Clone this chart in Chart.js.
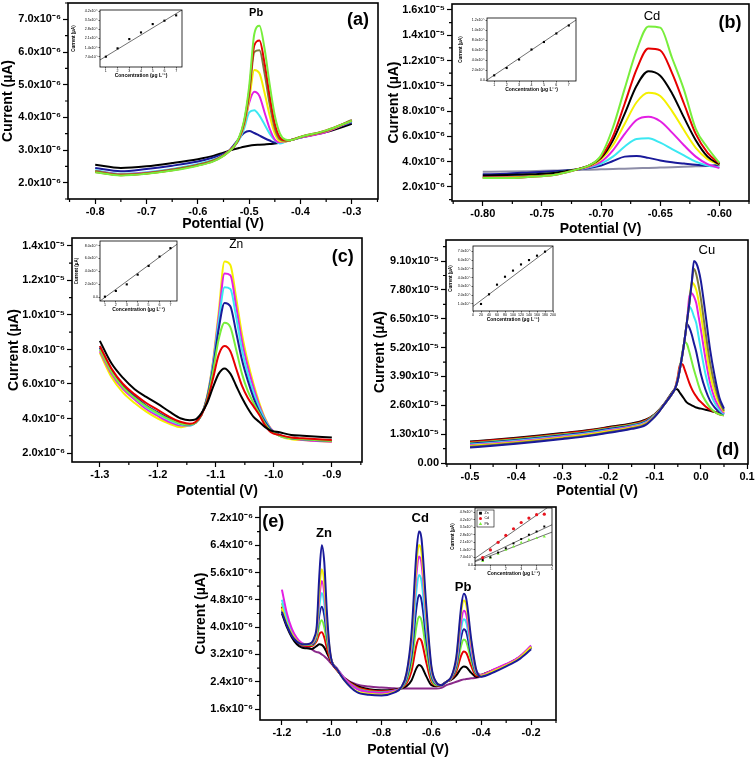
<!DOCTYPE html>
<html><head><meta charset="utf-8">
<script src="https://cdn.jsdelivr.net/npm/chart.js@4.4.1/dist/chart.umd.min.js"></script>
<style>
html,body{margin:0;padding:0;background:#fff;}
body{width:756px;height:759px;position:relative;overflow:hidden;}
canvas{position:absolute;}
</style></head><body>
<script>
// ================= DATA =================
// ---- Panel (a) Pb, current in 1e-6 units ----
const potA = [-0.80,-0.75,-0.70,-0.65,-0.60,-0.57,-0.55,-0.54,-0.53,-0.52,-0.51,-0.50,-0.49,-0.48,-0.47,-0.46,-0.45,-0.44,-0.43,-0.42,-0.40,-0.35,-0.30];
const a_black   = [2.55,2.45,2.50,2.60,2.72,2.82,2.92,2.97,3.02,3.06,3.10,3.13,3.15,3.16,3.17,3.18,3.20,3.22,3.26,3.30,3.38,3.55,3.80];
const a_navy    = [2.45,2.35,2.42,2.52,2.65,2.77,2.88,2.97,3.15,3.35,3.52,3.58,3.52,3.44,3.36,3.29,3.23,3.24,3.27,3.30,3.38,3.58,3.85];
const a_cyan    = [2.38,2.27,2.32,2.42,2.57,2.70,2.84,2.95,3.10,3.30,3.65,4.15,4.22,4.05,3.78,3.50,3.30,3.20,3.25,3.30,3.38,3.58,3.88];
const a_magenta = [2.36,2.26,2.30,2.40,2.55,2.68,2.84,2.96,3.10,3.35,3.75,4.45,4.78,4.65,4.15,3.65,3.32,3.24,3.26,3.30,3.38,3.55,3.90];
const a_yellow  = [2.34,2.24,2.28,2.39,2.54,2.67,2.83,2.95,3.10,3.35,3.75,4.55,5.45,5.35,4.75,4.05,3.50,3.27,3.26,3.30,3.40,3.58,3.90];
const a_olive   = [2.36,2.25,2.29,2.40,2.55,2.68,2.84,2.96,3.10,3.35,3.80,4.70,6.00,6.05,5.35,4.40,3.65,3.32,3.28,3.30,3.40,3.58,3.92];
const a_red     = [2.33,2.23,2.28,2.38,2.53,2.66,2.83,2.95,3.10,3.35,3.85,4.80,6.20,6.35,5.65,4.65,3.80,3.38,3.30,3.30,3.40,3.60,3.90];
const a_green   = [2.32,2.22,2.27,2.37,2.52,2.65,2.82,2.95,3.10,3.38,3.90,4.95,6.55,6.80,6.10,5.00,4.05,3.50,3.32,3.30,3.40,3.60,3.90];
const a_xTicks = [-0.8,-0.7,-0.6,-0.5,-0.4,-0.3];
const a_xLabels = ['-0.8','-0.7','-0.6','-0.5','-0.4','-0.3'];
const a_yTicks = [2,3,4,5,6,7];
const a_yLabels = ['2.0x10⁻⁶','3.0x10⁻⁶','4.0x10⁻⁶','5.0x10⁻⁶','6.0x10⁻⁶','7.0x10⁻⁶'];
// inset (a)
const insA_conc = [1,2,3,4,5,6,7];
const insA_cur  = [0.70,1.34,2.05,2.56,3.20,3.46,3.87];
const insA_fitX = [0.5,7.5];
const insA_fitY = [0.45,4.28];
const insA_yTicks = [0.7,1.4,2.1,2.8,3.5,4.2];
const insA_yLabels = ['7.0x10⁻⁷','1.4x10⁻⁶','2.1x10⁻⁶','2.8x10⁻⁶','3.5x10⁻⁶','4.2x10⁻⁶'];
const ins_xTicks7 = [1,2,3,4,5,6,7];
const ins_xLabels7 = ['1','2','3','4','5','6','7'];

// ---- Panel (b) Cd, 1e-6 units ----
const potB = [-0.80,-0.78,-0.76,-0.74,-0.73,-0.72,-0.71,-0.70,-0.69,-0.68,-0.67,-0.66,-0.65,-0.64,-0.63,-0.62,-0.61,-0.60];
const b_gray    = [3.20,3.22,3.25,3.30,3.32,3.35,3.37,3.40,3.43,3.45,3.48,3.50,3.53,3.56,3.60,3.63,3.66,3.70];
const b_navy    = [3.00,3.05,3.15,3.25,3.30,3.40,3.50,3.70,4.05,4.40,4.45,4.30,4.10,3.95,3.85,3.75,3.68,3.75];
const b_cyan    = [2.85,2.85,2.95,3.10,3.25,3.40,3.55,3.85,4.40,5.20,5.80,5.85,5.50,5.00,4.50,4.00,3.70,3.55];
const b_magenta = [2.80,2.80,2.90,3.05,3.20,3.40,3.60,4.00,4.90,6.20,7.30,7.55,7.20,6.30,5.30,4.40,3.80,3.50];
const b_yellow  = [2.75,2.75,2.85,3.00,3.20,3.40,3.65,4.20,5.30,7.00,8.70,9.45,9.20,8.00,6.50,5.10,4.20,3.75];
const b_black   = [2.90,2.95,3.00,3.10,3.25,3.40,3.70,4.30,5.70,7.80,10.0,11.15,10.8,9.40,7.50,5.70,4.40,3.80];
const b_red     = [2.72,2.72,2.80,2.95,3.15,3.40,3.70,4.40,6.00,8.60,11.3,12.95,12.8,11.0,8.60,6.20,4.70,3.85];
const b_green   = [2.70,2.70,2.80,2.95,3.15,3.40,3.70,4.50,6.70,9.80,12.8,14.70,14.6,12.2,9.70,6.60,5.10,3.90];
const b_xTicks = [-0.80,-0.75,-0.70,-0.65,-0.60];
const b_xLabels = ['-0.80','-0.75','-0.70','-0.65','-0.60'];
const b_yTicks = [2,4,6,8,10,12,14,16];
const b_yLabels = ['2.0x10⁻⁶','4.0x10⁻⁶','6.0x10⁻⁶','8.0x10⁻⁶','1.0x10⁻⁵','1.2x10⁻⁵','1.4x10⁻⁵','1.6x10⁻⁵'];
// inset (b)
const insB_conc = [1,2,3,4,5,6,7];
const insB_cur  = [0.93,2.40,4.10,6.10,7.60,9.30,10.90];
const insB_fitX = [0.42,7.58];
const insB_fitY = [0.0,12.0];
const insB_yTicks = [0,2,4,6,8,10,12];
const insB_yLabels = ['0.0','2.0x10⁻⁶','4.0x10⁻⁶','6.0x10⁻⁶','8.0x10⁻⁶','1.0x10⁻⁵','1.2x10⁻⁵'];

// ---- Panel (c) Zn, 1e-6 units ----
const potC = [-1.30,-1.28,-1.26,-1.24,-1.22,-1.20,-1.18,-1.16,-1.145,-1.135,-1.125,-1.115,-1.105,-1.095,-1.085,-1.075,-1.065,-1.055,-1.045,-1.035,-1.025,-1.015,-1.005,-0.99,-0.97,-0.95,-0.90];
const c_black   = [8.5,7.2,6.35,5.7,5.25,4.85,4.4,4.0,3.9,3.95,4.3,4.9,5.8,6.6,6.9,6.6,5.9,5.2,4.6,4.1,3.8,3.5,3.3,3.2,3.05,3.0,2.9];
const c_red     = [8.2,6.9,6.0,5.4,4.9,4.5,4.1,3.8,3.7,3.8,4.2,5.0,6.3,7.7,8.2,7.9,6.9,5.9,5.2,4.7,4.2,3.6,3.2,3.05,2.9,2.85,2.75];
const c_green   = [8.0,6.7,5.8,5.2,4.7,4.3,3.95,3.7,3.65,3.75,4.2,5.1,6.7,8.6,9.55,9.3,8.0,6.6,5.6,4.9,4.3,3.7,3.3,3.0,2.85,2.8,2.7];
const c_navy    = [8.1,6.8,5.9,5.3,4.75,4.35,4.0,3.7,3.65,3.75,4.2,5.2,6.9,9.2,10.7,10.5,9.0,7.4,6.2,5.2,4.4,3.8,3.35,3.05,2.85,2.8,2.7];
const c_cyan    = [8.2,6.8,5.85,5.2,4.65,4.25,3.9,3.65,3.6,3.75,4.2,5.2,7.1,9.6,11.6,11.5,9.9,8.0,6.6,5.5,4.6,3.9,3.35,3.0,2.85,2.8,2.7];
const c_magenta = [7.9,6.6,5.7,5.1,4.55,4.15,3.8,3.6,3.6,3.75,4.2,5.25,7.2,9.9,12.4,12.3,10.5,8.5,7.0,5.8,4.75,3.95,3.4,3.0,2.85,2.75,2.65];
const c_yellow  = [7.8,6.4,5.5,4.9,4.4,4.0,3.7,3.5,3.6,3.75,4.2,5.3,7.3,10.2,13.1,12.9,11.0,8.9,7.3,6.0,4.9,4.0,3.4,3.0,2.8,2.75,2.65];
const c_xTicks = [-1.3,-1.2,-1.1,-1.0,-0.9];
const c_xLabels = ['-1.3','-1.2','-1.1','-1.0','-0.9'];
const c_yTicks = [2,4,6,8,10,12,14];
const c_yLabels = ['2.0x10⁻⁶','4.0x10⁻⁶','6.0x10⁻⁶','8.0x10⁻⁶','1.0x10⁻⁵','1.2x10⁻⁵','1.4x10⁻⁵'];
// inset (c)
const insC_conc = [1,2,3,4,5,6,7];
const insC_cur  = [0.10,0.98,2.00,3.50,4.85,6.30,7.60];
const insC_fitX = [0.55,7.6];
const insC_fitY = [-0.57,8.2];
const insC_yTicks = [0,2,4,6,8];
const insC_yLabels = ['0.0','2.0x10⁻⁶','4.0x10⁻⁶','6.0x10⁻⁶','8.0x10⁻⁶'];

// ---- Panel (d) Cu, 1e-5 units ----
const potD = [-0.50,-0.45,-0.40,-0.35,-0.30,-0.25,-0.20,-0.15,-0.12,-0.10,-0.09,-0.08,-0.07,-0.06,-0.055,-0.05,-0.045,-0.04,-0.035,-0.03,-0.025,-0.02,-0.015,-0.01,-0.005,0.00,0.01,0.02,0.03,0.04,0.05];
const d_black   = [0.97,1.05,1.14,1.24,1.35,1.47,1.62,1.78,1.95,2.20,2.40,2.65,2.95,3.25,3.35,3.30,3.15,3.00,2.85,2.72,2.65,2.60,2.55,2.50,2.47,2.45,2.40,2.35,2.30,2.25,2.20];
const d_red     = [0.94,1.02,1.11,1.21,1.32,1.44,1.59,1.75,1.92,2.18,2.39,2.63,2.92,3.20,3.45,3.90,4.45,4.45,4.20,3.90,3.60,3.35,3.15,3.00,2.85,2.75,2.55,2.40,2.30,2.20,2.15];
const d_green   = [0.90,0.98,1.07,1.17,1.28,1.40,1.56,1.72,1.89,2.17,2.38,2.62,2.90,3.20,3.40,3.80,4.35,5.00,5.45,5.35,5.00,4.60,4.20,3.85,3.50,3.20,2.80,2.50,2.30,2.20,2.15];
const d_navy    = [0.87,0.95,1.04,1.14,1.25,1.37,1.53,1.69,1.86,2.15,2.37,2.62,2.90,3.20,3.40,3.75,4.30,4.90,5.60,6.25,6.10,5.80,5.40,5.00,4.50,4.00,3.30,2.80,2.50,2.30,2.20];
const d_cyan    = [0.83,0.91,1.00,1.10,1.21,1.33,1.49,1.66,1.83,2.14,2.36,2.62,2.90,3.20,3.40,3.75,4.30,4.90,5.60,6.40,7.05,6.90,6.60,6.30,5.70,5.10,4.00,3.20,2.70,2.40,2.20];
const d_magenta = [0.80,0.88,0.97,1.07,1.18,1.30,1.46,1.63,1.80,2.12,2.35,2.62,2.90,3.20,3.40,3.75,4.30,4.90,5.60,6.40,7.50,7.65,7.50,7.20,6.60,6.00,4.70,3.60,2.90,2.50,2.25];
const d_yellow  = [0.77,0.85,0.94,1.04,1.15,1.27,1.43,1.60,1.77,2.11,2.35,2.62,2.90,3.20,3.40,3.75,4.30,4.90,5.60,6.40,7.20,8.15,8.05,7.80,7.30,6.70,5.30,4.00,3.20,2.65,2.30];
const d_olive   = [0.73,0.81,0.90,1.00,1.11,1.23,1.39,1.57,1.74,2.09,2.34,2.62,2.90,3.20,3.40,3.75,4.30,4.90,5.60,6.40,7.20,8.10,8.75,8.50,8.00,7.40,5.90,4.50,3.50,2.80,2.35];
const d_navy2   = [0.70,0.78,0.87,0.97,1.08,1.20,1.36,1.54,1.71,2.08,2.33,2.62,2.90,3.20,3.40,3.75,4.30,4.90,5.60,6.40,7.20,8.10,9.10,9.00,8.70,8.20,6.70,5.10,3.90,2.95,2.45];
const d_xTicks = [-0.5,-0.4,-0.3,-0.2,-0.1,0.0,0.1];
const d_xLabels = ['-0.5','-0.4','-0.3','-0.2','-0.1','0.0','0.1'];
const d_yTicks = [0,1.3,2.6,3.9,5.2,6.5,7.8,9.1];
const d_yLabels = ['0.00','1.30x10⁻⁵','2.60x10⁻⁵','3.90x10⁻⁵','5.20x10⁻⁵','6.50x10⁻⁵','7.80x10⁻⁵','9.10x10⁻⁵'];
// inset (d)
const insD_conc = [20,40,60,80,100,120,140,160,180];
const insD_cur  = [1.0,2.1,3.2,4.1,4.8,5.5,6.0,6.5,6.96];
const insD_fitX = [0,200];
const insD_fitY = [0.72,7.6];
const insD_xTicks = [0,20,40,60,80,100,120,140,160,180,200];
const insD_xLabels = ['0','20','40','60','80','100','120','140','160','180','200'];
const insD_yTicks = [1,2,3,4,5,6,7];
const insD_yLabels = ['1.0x10⁻⁵','2.0x10⁻⁵','3.0x10⁻⁵','4.0x10⁻⁵','5.0x10⁻⁵','6.0x10⁻⁵','7.0x10⁻⁵'];

// ---- Panel (e) Zn/Cd/Pb simultaneous, 1e-6 units ----
const potE = [-1.20,-1.18,-1.16,-1.14,-1.12,-1.10,-1.08,-1.07,-1.06,-1.05,-1.04,-1.03,-1.02,-1.01,-1.00,-0.98,-0.95,-0.90,-0.85,-0.80,-0.75,-0.72,-0.70,-0.68,-0.66,-0.65,-0.64,-0.62,-0.60,-0.58,-0.56,-0.54,-0.52,-0.50,-0.48,-0.47,-0.46,-0.44,-0.42,-0.40,-0.35,-0.30,-0.25,-0.20];
const e_purple  = [4.60,4.10,3.75,3.55,3.45, 3.42,3.35,3.30,3.27,3.25,3.20,3.15,3.08,3.00,2.92, 2.78,2.52,2.32,2.26,2.23,2.21, 2.20,2.20,2.20,2.20,2.20,2.20,2.20,2.20,2.20,2.22, 2.30,2.35,2.40,2.45,2.47,2.48,2.50,2.52,2.55, 2.70,2.90,3.10,3.38];
const e_black   = [4.40,4.00,3.70,3.50,3.40, 3.38,3.36,3.40,3.45,3.50,3.48,3.40,3.25,3.10,2.95, 2.75,2.50,2.28,2.18,2.15,2.17, 2.21,2.27,2.44,2.80,2.89,2.85,2.55,2.30,2.27,2.30, 2.40,2.46,2.59,2.80,2.85,2.83,2.66,2.54,2.60, 2.75,2.90,3.10,3.42];
const e_red     = [4.60,4.15,3.80,3.60,3.48, 3.45,3.45,3.50,3.60,3.80,3.85,3.70,3.40,3.15,2.95, 2.75,2.50,2.25,2.15,2.12,2.15, 2.22,2.35,2.71,3.48,3.67,3.60,2.95,2.41,2.29,2.30, 2.40,2.48,2.70,3.18,3.29,3.24,2.86,2.58,2.60, 2.75,2.90,3.10,3.42];
const e_green   = [4.70,4.20,3.85,3.62,3.50, 3.48,3.48,3.52,3.70,4.05,4.20,4.00,3.60,3.25,3.00, 2.78,2.50,2.22,2.12,2.10,2.14, 2.22,2.42,2.93,4.03,4.31,4.20,3.28,2.50,2.30,2.30, 2.40,2.50,2.79,3.48,3.64,3.57,3.02,2.62,2.60, 2.74,2.90,3.10,3.44];
const e_navy    = [4.50,4.05,3.75,3.58,3.50, 3.50,3.50,3.55,3.80,4.35,4.60,4.35,3.80,3.30,3.00, 2.78,2.48,2.20,2.10,2.08,2.13, 2.23,2.48,3.15,4.58,4.94,4.80,3.60,2.59,2.33,2.30, 2.40,2.51,2.86,3.73,3.94,3.85,3.15,2.65,2.58, 2.72,2.88,3.08,3.40];
const e_cyan    = [4.80,4.25,3.90,3.65,3.52, 3.50,3.52,3.60,3.85,4.60,5.00,4.70,3.95,3.35,3.00, 2.80,2.50,2.20,2.10,2.08,2.13, 2.23,2.54,3.36,5.09,5.53,5.36,3.90,2.68,2.35,2.30, 2.40,2.52,2.94,3.99,4.23,4.13,3.29,2.68,2.60, 2.74,2.90,3.10,3.45];
const e_magenta = [5.10,4.40,3.95,3.68,3.53, 3.50,3.52,3.62,3.90,4.85,5.35,5.00,4.10,3.40,3.00, 2.80,2.50,2.20,2.10,2.08,2.13, 2.24,2.60,3.54,5.56,6.07,5.87,4.18,2.75,2.36,2.30, 2.40,2.53,3.00,4.20,4.48,4.36,3.40,2.70,2.60, 2.76,2.92,3.12,3.46];
const e_yellow  = [4.55,4.10,3.80,3.60,3.50, 3.50,3.53,3.65,3.95,5.10,5.70,5.30,4.25,3.45,3.00, 2.78,2.45,2.12,2.05,2.02,2.10, 2.24,2.63,3.66,5.86,6.41,6.20,4.35,2.80,2.37,2.30, 2.40,2.54,3.08,4.46,4.78,4.64,3.54,2.73,2.58, 2.72,2.88,3.08,3.42];
const e_navy2   = [4.45,4.05,3.75,3.58,3.50, 3.50,3.55,3.70,4.05,5.50,6.40,5.90,4.50,3.50,3.00, 2.78,2.45,2.10,2.02,2.00,2.08, 2.25,2.65,3.80,6.20,6.80,6.60,4.55,2.85,2.38,2.30, 2.40,2.55,3.13,4.63,4.98,4.83,3.63,2.75,2.55, 2.68,2.85,3.05,3.35];
const e_xTicks = [-1.2,-1.0,-0.8,-0.6,-0.4,-0.2];
const e_xLabels = ['-1.2','-1.0','-0.8','-0.6','-0.4','-0.2'];
const e_yTicks = [1.6,2.4,3.2,4.0,4.8,5.6,6.4,7.2];
const e_yLabels = ['1.6x10⁻⁶','2.4x10⁻⁶','3.2x10⁻⁶','4.0x10⁻⁶','4.8x10⁻⁶','5.6x10⁻⁶','6.4x10⁻⁶','7.2x10⁻⁶'];
// inset (e)
const insE_conc = [0.5,1,1.5,2,2.5,3,3.5,4,4.5];
const insE_Zn = [0.46,0.71,1.15,1.55,2.00,2.40,2.80,3.10,3.56];
const insE_Cd = [0.68,1.39,2.10,2.73,3.35,3.93,4.34,4.65,4.70];
const insE_Pb = [0.37,0.68,1.02,1.39,1.70,2.08,2.32,2.48,2.63];
const insE_fitX = [0,5];
const insE_fitZn = [0.37,3.72];
const insE_fitCd = [0.62,5.60];
const insE_fitPb = [0.31,3.04];
const insE_xTicks = [0,1,2,3,4,5];
const insE_xLabels = ['0','1','2','3','4','5'];
const insE_yTicks = [0,0.7,1.4,2.1,2.8,3.5,4.2,4.9];
const insE_yLabels = ['0.0','7.0x10⁻⁷','1.4x10⁻⁶','2.1x10⁻⁶','2.8x10⁻⁶','3.5x10⁻⁶','4.2x10⁻⁶','4.9x10⁻⁶'];

// ================= STYLE / RENDER =================
const FONT = "'Liberation Sans', Arial, Helvetica, sans-serif";
Chart.defaults.color = '#000';
Chart.defaults.font.family = FONT;
const COL = {black:'#000000', navy:'#1a1a9a', cyan:'#3be8f2', magenta:'#e31fe3', yellow:'#f4f000',
  olive:'#7e7a3c', red:'#e60000', green:'#78ee3c', gray:'#8d8da8', purple:'#8a2a8a'};

function place(l,t,w,h){
  const c=document.createElement('canvas');
  c.width=w; c.height=h;
  c.style.left=l+'px'; c.style.top=t+'px'; c.style.width=w+'px'; c.style.height=h+'px';
  document.body.appendChild(c); return c;
}

const deco = {
  id:'deco',
  beforeDatasetsDraw(chart){
    const o=chart.options.plugins.deco||{};
    if(!o.fill) return;
    const a=chart.chartArea, ctx=chart.ctx;
    ctx.save(); ctx.fillStyle='#fff'; ctx.fillRect(a.left,a.top,a.right-a.left,a.bottom-a.top); ctx.restore();
  },
  afterDraw(chart){
    const o=chart.options.plugins.deco||{};
    const ctx=chart.ctx, a=chart.chartArea, xs=chart.scales.x, ys=chart.scales.y;
    ctx.save();
    ctx.strokeStyle='#000';
    if(o.minor){
      ctx.lineWidth=o.tickW||1;
      const mids=(arr,min,max)=>{const r=[];const st=arr[1]-arr[0];
        for(let i=0;i<arr.length-1;i++) r.push((arr[i]+arr[i+1])/2);
        if(arr[0]-st/2>=min) r.push(arr[0]-st/2);
        if(arr[arr.length-1]+st/2<=max) r.push(arr[arr.length-1]+st/2); return r;};
      ctx.beginPath();
      mids(xs.ticks.map(t=>t.value),xs.min,xs.max).forEach(v=>{const p=xs.getPixelForValue(v);ctx.moveTo(p,a.bottom);ctx.lineTo(p,a.bottom+o.minor);});
      mids(ys.ticks.map(t=>t.value),ys.min,ys.max).forEach(v=>{const p=ys.getPixelForValue(v);ctx.moveTo(a.left,p);ctx.lineTo(a.left-o.minor,p);});
      ctx.stroke();
    }
    ctx.lineWidth=o.frameW||1.5;
    ctx.strokeRect(a.left,a.top,a.right-a.left,a.bottom-a.top);
    (o.texts||[]).forEach(t=>{
      ctx.font=t.font; ctx.fillStyle='#000'; ctx.textAlign='center'; ctx.textBaseline='middle';
      ctx.fillText(t.text, xs.getPixelForValue(t.x), ys.getPixelForValue(t.y));
    });
    if(o.legend){
      const x0=a.left+2, y0=a.top+2, w=17, h=17;
      ctx.lineWidth=0.6; ctx.fillStyle='#fff'; ctx.fillRect(x0,y0,w,h); ctx.strokeRect(x0,y0,w,h);
      o.legend.forEach((e,i)=>{
        const cy=y0+3.2+i*5.2, cx=x0+3.5;
        ctx.fillStyle=e.c; ctx.beginPath();
        if(e.shape==='rect') ctx.rect(cx-1.4,cy-1.4,2.8,2.8);
        else if(e.shape==='circle') ctx.arc(cx,cy,1.5,0,Math.PI*2);
        else {ctx.moveTo(cx,cy-1.7);ctx.lineTo(cx+1.7,cy+1.3);ctx.lineTo(cx-1.7,cy+1.3);ctx.closePath();}
        ctx.fill();
        ctx.fillStyle='#000'; ctx.font='3.6px '+FONT; ctx.textAlign='left'; ctx.textBaseline='middle';
        ctx.fillText(e.t, cx+4, cy);
      });
    }
    ctx.restore();
  }
};

function mainPanel(p){
  const cv=place(p.box[0],p.box[1],p.box[2],p.box[3]);
  const ds=p.series.map(s=>({data:p.xs.map((x,i)=>({x:x,y:s.y[i]})), borderColor:s.c, borderWidth:2,
    pointRadius:0, fill:false, cubicInterpolationMode:'monotone'}));
  const tickFont={family:FONT,size:11,weight:'bold'};
  const titleFont={family:FONT,size:14,weight:'bold'};
  const grid={display:true,drawOnChartArea:false,drawTicks:true,tickLength:5,tickColor:'#000',tickWidth:1.2};
  new Chart(cv,{type:'line',data:{datasets:ds},options:{
    responsive:false, animation:false, events:[],
    layout:{padding:{left:0,top:p.pad[0],right:p.pad[1],bottom:0}},
    plugins:{legend:{display:false},tooltip:{enabled:false},deco:{minor:3,frameW:1.6,tickW:1.2,texts:p.texts}},
    scales:{
      x:{type:'linear',position:'bottom',min:p.xr[0],max:p.xr[1],
        afterBuildTicks:s=>{s.ticks=p.xt.map(v=>({value:v}));},
        afterFit:s=>{s.height=p.xh;s.paddingLeft=0;s.paddingRight=0;},
        ticks:{autoSkip:false,maxRotation:0,minRotation:0,padding:1,color:'#000',font:tickFont,callback:(v,i)=>p.xl[i]},
        grid:grid, border:{display:false},
        title:{display:true,text:'Potential (V)',color:'#000',font:titleFont,padding:{top:0,bottom:p.xtp}}},
      y:{type:'linear',position:'left',min:p.yr[0],max:p.yr[1],
        afterBuildTicks:s=>{s.ticks=p.yt.map(v=>({value:v}));},
        afterFit:s=>{s.width=p.yw;s.paddingTop=0;s.paddingBottom=0;},
        ticks:{autoSkip:false,padding:2,color:'#000',font:tickFont,callback:(v,i)=>p.yl[i]},
        grid:grid, border:{display:false},
        title:{display:true,text:'Current (µA)',color:'#000',font:titleFont,padding:{top:p.ytp,bottom:0}}}
    }},plugins:[deco]});
}

function inset(p){
  const cv=place(p.box[0],p.box[1],p.box[2],p.box[3]);
  const ds=[];
  p.pts.forEach(s=>ds.push({type:'scatter',data:p.xs.map((x,i)=>({x:x,y:s.y[i]})),backgroundColor:s.c,borderColor:s.c,
    pointStyle:s.shape,pointRadius:s.r||1.5,borderWidth:0,showLine:false}));
  p.fits.forEach(f=>ds.push({type:'line',data:f.x.map((x,i)=>({x:x,y:f.y[i]})),borderColor:'#333',borderWidth:0.7,pointRadius:0,fill:false}));
  const tf={family:FONT,size:3.6};
  const ttl={family:FONT,size:5,weight:'bold'};
  const grid={display:true,drawOnChartArea:false,drawTicks:true,tickLength:1.5,tickColor:'#000',tickWidth:0.6};
  new Chart(cv,{type:'scatter',data:{datasets:ds},options:{
    responsive:false, animation:false, events:[],
    layout:{padding:{left:0,top:4,right:3,bottom:0}},
    plugins:{legend:{display:false},tooltip:{enabled:false},deco:{fill:true,frameW:0.8,legend:p.legend}},
    scales:{
      x:{type:'linear',min:p.xr[0],max:p.xr[1],
        afterBuildTicks:s=>{s.ticks=p.xt.map(v=>({value:v}));},
        afterFit:s=>{s.height=12;s.paddingLeft=0;s.paddingRight=0;},
        ticks:{autoSkip:false,maxRotation:0,minRotation:0,padding:0.5,color:'#000',font:tf,callback:(v,i)=>p.xl[i]},
        grid:grid,border:{display:false},
        title:{display:true,text:'Concentration (µg L⁻¹)',color:'#000',font:ttl,padding:{top:0,bottom:0}}},
      y:{type:'linear',min:p.yr[0],max:p.yr[1],
        afterBuildTicks:s=>{s.ticks=p.yt.map(v=>({value:v}));},
        afterFit:s=>{s.width=p.yw;s.paddingTop=0;s.paddingBottom=0;},
        ticks:{autoSkip:false,padding:0.5,color:'#000',font:tf,callback:(v,i)=>p.yl[i]},
        grid:grid,border:{display:false},
        title:{display:true,text:'Current (µA)',color:'#000',font:{family:FONT,size:4.5,weight:'bold'},padding:{top:1,bottom:0}}}
    }},plugins:[deco]});
}

// ---- (a) ----
mainPanel({box:[0,0,380,235],pad:[3,2],yw:68,xh:36,ytp:0,xtp:2,xr:[-0.853,-0.249],yr:[1.5,7.5],
  xs:potA,xt:a_xTicks,xl:a_xLabels,yt:a_yTicks,yl:a_yLabels,
  series:[{c:COL.green,y:a_green},{c:COL.red,y:a_red},{c:COL.olive,y:a_olive},{c:COL.yellow,y:a_yellow},
    {c:COL.magenta,y:a_magenta},{c:COL.cyan,y:a_cyan},{c:COL.navy,y:a_navy},{c:COL.black,y:a_black}],
  texts:[{text:'Pb',x:-0.4865,y:7.19,font:'bold 11px '+FONT},{text:'(a)',x:-0.288,y:6.98,font:'bold 18px '+FONT}]});
inset({box:[70,6,116,73],yw:30,xr:[0.5,7.5],yr:[-0.09,4.28],xt:ins_xTicks7,xl:ins_xLabels7,yt:insA_yTicks,yl:insA_yLabels,
  xs:insA_conc,pts:[{c:'#000',y:insA_cur,shape:'rect',r:1.5}],fits:[{x:insA_fitX,y:insA_fitY}]});

// ---- (b) ----
mainPanel({box:[380,0,376,240],pad:[4,7],yw:72,xh:39,ytp:6,xtp:2,xr:[-0.826,-0.575],yr:[0.89,16.47],
  xs:potB,xt:b_xTicks,xl:b_xLabels,yt:b_yTicks,yl:b_yLabels,
  series:[{c:COL.green,y:b_green},{c:COL.red,y:b_red},{c:COL.black,y:b_black},{c:COL.yellow,y:b_yellow},
    {c:COL.magenta,y:b_magenta},{c:COL.cyan,y:b_cyan},{c:COL.navy,y:b_navy},{c:COL.gray,y:b_gray}],
  texts:[{text:'Cd',x:-0.657,y:15.47,font:'13px '+FONT},{text:'(b)',x:-0.591,y:15.0,font:'bold 18px '+FONT}]});
inset({box:[457,14,123,79],yw:30,xr:[0.42,7.58],yr:[-0.2,12.4],xt:ins_xTicks7,xl:ins_xLabels7,yt:insB_yTicks,yl:insB_yLabels,
  xs:insB_conc,pts:[{c:'#000',y:insB_cur,shape:'rect',r:1.5}],fits:[{x:insB_fitX,y:insB_fitY}]});

// ---- (c) ----
mainPanel({box:[0,232,370,270],pad:[6,8],yw:72,xh:40,ytp:6,xtp:2,xr:[-1.348,-0.848],yr:[1.48,14.46],
  xs:potC,xt:c_xTicks,xl:c_xLabels,yt:c_yTicks,yl:c_yLabels,
  series:[{c:COL.black,y:c_black},{c:COL.red,y:c_red},{c:COL.green,y:c_green},{c:COL.navy,y:c_navy},
    {c:COL.cyan,y:c_cyan},{c:COL.magenta,y:c_magenta},{c:COL.yellow,y:c_yellow}],
  texts:[{text:'Zn',x:-1.065,y:14.1,font:'12px '+FONT},{text:'(c)',x:-0.881,y:13.34,font:'bold 18px '+FONT}]});
inset({box:[73,237,108,76],yw:27,xr:[0.55,7.6],yr:[-0.57,8.7],xt:ins_xTicks7,xl:ins_xLabels7,yt:insC_yTicks,yl:insC_yLabels,
  xs:insC_conc,pts:[{c:'#000',y:insC_cur,shape:'rect',r:1.5}],fits:[{x:insC_fitX,y:insC_fitY}]});

// ---- (d) ----
mainPanel({box:[372,232,384,270],pad:[8,8],yw:74,xh:38,ytp:0,xtp:2,xr:[-0.552,0.102],yr:[-0.045,10.05],
  xs:potD,xt:d_xTicks,xl:d_xLabels,yt:d_yTicks,yl:d_yLabels,
  series:[{c:COL.navy,y:d_navy2},{c:COL.olive,y:d_olive},{c:COL.yellow,y:d_yellow},{c:COL.magenta,y:d_magenta},
    {c:COL.cyan,y:d_cyan},{c:COL.navy,y:d_navy},{c:COL.green,y:d_green},{c:COL.red,y:d_red},{c:COL.black,y:d_black}],
  texts:[{text:'Cu',x:0.013,y:9.6,font:'13px '+FONT},{text:'(d)',x:0.058,y:0.6,font:'bold 18px '+FONT}]});
inset({box:[447,242,110,81],yw:26,xr:[0,200],yr:[0.2,7.6],xt:insD_xTicks,xl:insD_xLabels,yt:insD_yTicks,yl:insD_yLabels,
  xs:insD_conc,pts:[{c:'#000',y:insD_cur,shape:'rect',r:1.5}],fits:[{x:insD_fitX,y:insD_fitY}]});

// ---- (e) ----
mainPanel({box:[190,500,380,259],pad:[7,14],yw:70,xh:39,ytp:3,xtp:0,xr:[-1.288,-0.1],yr:[1.28,7.52],
  xs:potE,xt:e_xTicks,xl:e_xLabels,yt:e_yTicks,yl:e_yLabels,
  series:[{c:COL.navy,y:e_navy2},{c:COL.yellow,y:e_yellow},{c:COL.magenta,y:e_magenta},{c:COL.cyan,y:e_cyan},
    {c:COL.navy,y:e_navy},{c:COL.green,y:e_green},{c:COL.red,y:e_red},{c:COL.black,y:e_black},{c:COL.purple,y:e_purple}],
  texts:[{text:'(e)',x:-1.235,y:7.08,font:'bold 18px '+FONT},{text:'Zn',x:-1.031,y:6.76,font:'bold 13px '+FONT},
    {text:'Cd',x:-0.645,y:7.2,font:'bold 13px '+FONT},{text:'Pb',x:-0.473,y:5.17,font:'bold 13px '+FONT}]});
inset({box:[449,504,107,73],yw:26,xr:[0,5],yr:[0,5.27],xt:insE_xTicks,xl:insE_xLabels,yt:insE_yTicks,yl:insE_yLabels,
  xs:insE_conc,
  pts:[{c:'#000',y:insE_Zn,shape:'rect',r:1.4},{c:'#e8141e',y:insE_Cd,shape:'circle',r:1.6},{c:'#7cf03c',y:insE_Pb,shape:'triangle',r:1.8}],
  fits:[{x:insE_fitX,y:insE_fitZn},{x:insE_fitX,y:insE_fitCd},{x:insE_fitX,y:insE_fitPb}],
  legend:[{t:'Zn',c:'#000',shape:'rect'},{t:'Cd',c:'#e8141e',shape:'circle'},{t:'Pb',c:'#7cf03c',shape:'triangle'}]});
</script>
</body></html>
